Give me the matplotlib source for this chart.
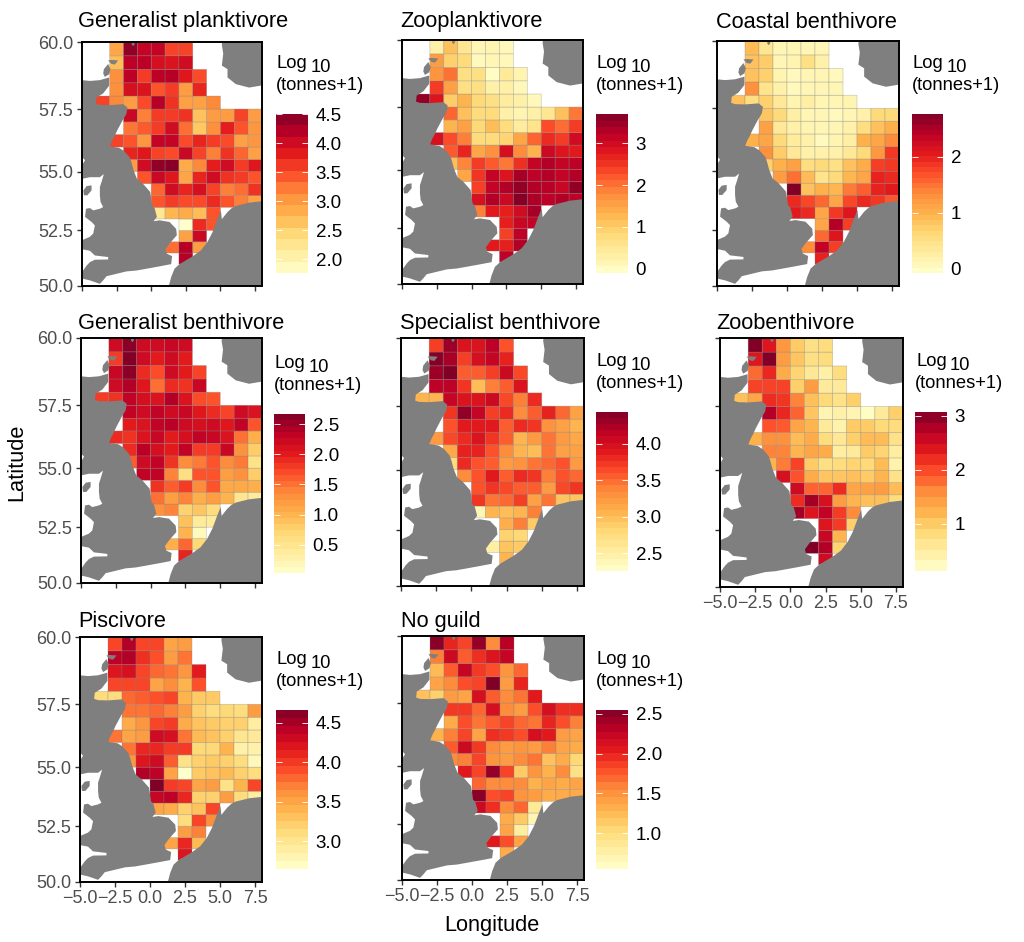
import numpy as np
import matplotlib
matplotlib.use("Agg")
import matplotlib.pyplot as plt
from matplotlib.colors import LinearSegmentedColormap

plt.rcParams['font.family'] = ['Liberation Sans', 'DejaVu Sans']

W, H = 1024, 942

# ICES rectangles: south edge of each row and west edge of its first cell
row_lat = [59.5, 59.0, 58.5, 58.0, 57.5, 57.0, 56.5, 56.0, 55.5, 55.0, 54.5, 54.0, 53.5, 53.0, 52.5, 52.0, 51.5, 51.0]
row_lon = [-3, -3, -3, -3, -4, -2, -2, -3, -2, -2, -1, 0, 0, 0, 2, 2, 1, 2]

titles = ["Generalist planktivore", "Zooplanktivore", "Coastal benthivore",
          "Generalist benthivore", "Specialist benthivore", "Zoobenthivore",
          "Piscivore", "No guild"]

gen_plank = [
    [2.9, 4.4, 4.1, 4.1, 3.55, 3.55],
    [2.7, 4.15, 4.15, 3.95, 3.9, 4.0],
    [3.1, 4.15, 3.6, 4.15, 4.2, 3.85, 3.5],
    [3.1, 3.95, 3.9, 3.45, 3.6, 3.0, 3.75],
    [3.55, 3.15, 3.0, 3.5, 4.2, 3.65, 2.95, 2.95, 3.15],
    [4.05, 3.2, 3.6, 3.6, 3.65, 2.65, 3.0, 3.0, 3.55, 3.0],
    [3.25, 3.4, 3.6, 4.0, 3.3, 2.6, 3.1, 3.8, 3.45, 3.05],
    [3.55, 3.45, 3.05, 4.1, 4.1, 3.5, 3.75, 3.6, 3.5, 2.95, 3.05],
    [3.75, 3.85, 3.55, 3.5, 4.05, 3.55, 3.2, 3.65, 3.35, 2.95],
    [3.0, 4.0, 4.4, 4.45, 2.85, 3.15, 3.8, 4.0, 3.6, 3.85],
    [3.45, 4.05, 3.85, 2.9, 3.75, 4.0, 3.65, 3.6, 3.45],
    [3.35, 4.0, 3.75, 3.95, 3.55, 3.2, 3.3, 3.65],
    [3.45, 3.6, 3.5, 3.5, 3.7, 3.45, 3.2, 2.95],
    [2.2, 2.75, 2.85, 2.7, 3.45],
    [1.76, 3.7, 3.45],
    [2.95, 4.05],
    [3.3, 4.2, 3.0],
    [4.2],
]
zooplank = [
    [0.3, 1.15, 0.55, 0.15, 0.2, 0.1],
    [1.6, 0.95, 0.8, 0.05, 0.15, 0.1],
    [1.7, 2.0, 0.7, 0.7, 0.0, 0.45, 0.2],
    [2.45, 1.55, 0.7, 0.7, 0.3, 0.3, 0.1],
    [3.55, 2.85, 1.0, 1.3, 0.85, 0.7, 0.4, 0.3, 0.1],
    [2.1, 1.15, 0.8, 0.8, 0.3, 0.2, 0.3, 0.55, 1.15, 1.95],
    [1.3, 1.55, 0.85, 1.2, 0.75, 0.4, 0.6, 2.3, 2.05, 2.45],
    [2.9, 2.3, 1.9, 0.8, 0.8, 0.9, 1.5, 2.1, 2.6, 2.45, 3.0],
    [2.2, 2.65, 1.5, 1.75, 2.95, 1.8, 1.3, 3.05, 2.85, 2.75],
    [1.2, 1.85, 2.45, 2.2, 1.95, 2.55, 3.15, 3.3, 3.15, 3.2],
    [1.5, 2.5, 3.15, 2.85, 3.4, 3.2, 3.3, 3.15, 3.3],
    [2.4, 3.15, 3.3, 3.55, 3.3, 3.25, 3.1, 3.55],
    [2.9, 3.3, 3.05, 3.65, 3.35, 3.2, 3.3, 3.2],
    [1.9, 2.75, 2.7, 3.0, 3.4],
    [2.7, 3.1, 3.15],
    [2.4, 3.2],
    [2.75, 2.7, 3.3],
    [3.2],
]
coastal_ben = [
    [0.9, 0.4, 0.1, 0.1, 0.1, 0.1],
    [0.85, 0.75, 0.1, 0.15, 0.5, 0.2],
    [0.85, 0.7, 0.15, 0.05, 0.1, 0.1, 0.05],
    [1.3, 0.45, 0.2, 0.05, 0.1, 0.1, 0.1],
    [0.85, 0.55, 0.7, 0.35, 0.15, 0.25, 0.1, 0.1, 0.15],
    [0.8, 0.6, 0.25, 0.1, 0.1, 0.05, 0.1, 0.2, 0.6, 0.6],
    [1.15, 0.35, 0.2, 0.15, 0.1, 0.1, 0.2, 0.55, 0.85, 1.0],
    [1.0, 1.1, 0.6, 0.3, 0.2, 0.05, 0.15, 0.25, 1.0, 1.1, 1.35],
    [1.3, 0.75, 0.35, 0.2, 0.2, 0.2, 0.35, 0.6, 1.25, 1.85],
    [0.7, 1.0, 1.15, 0.55, 0.6, 0.5, 0.85, 1.05, 1.8, 1.85],
    [1.2, 1.5, 0.9, 0.45, 0.6, 0.95, 1.1, 2.0, 1.95],
    [2.76, 0.85, 1.0, 0.95, 1.45, 1.6, 2.0, 2.05],
    [1.95, 1.75, 1.55, 1.1, 1.75, 1.95, 1.85, 1.65],
    [2.05, 1.95, 1.1, 1.85, 2.1],
    [1.1, 2.45, 1.8],
    [1.55, 2.1],
    [1.35, 2.35, 1.8],
    [2.0],
]
gen_ben = [
    [2.2, 2.6, 2.2, 2.2, 2.25, 2.2],
    [1.8, 2.65, 2.2, 2.0, 2.2, 2.0],
    [2.25, 2.6, 1.9, 1.7, 2.2, 2.0, 1.75],
    [2.2, 2.4, 2.05, 1.5, 1.9, 1.85, 2.25],
    [1.8, 1.85, 2.3, 2.15, 2.1, 2.4, 2.1, 1.7, 1.65],
    [2.3, 2.2, 2.3, 2.2, 2.25, 2.05, 1.9, 1.75, 2.2, 2.1],
    [2.0, 2.1, 2.3, 2.35, 2.2, 2.15, 2.2, 2.05, 2.3, 1.65],
    [1.9, 1.85, 2.1, 2.25, 2.0, 2.15, 2.3, 2.25, 2.1, 1.5, 1.05],
    [1.9, 2.35, 2.15, 2.0, 2.3, 1.8, 1.8, 2.25, 1.3, 0.8],
    [1.6, 2.2, 2.3, 1.85, 1.35, 1.45, 1.65, 1.35, 1.45, 0.55],
    [2.3, 2.3, 1.4, 0.6, 1.65, 1.65, 1.2, 1.3, 0.8],
    [1.85, 1.6, 1.8, 1.35, 1.65, 1.1, 1.1, 1.05],
    [1.5, 1.2, 1.4, 1.05, 1.2, 1.0, 0.5, 0.4],
    [1.3, 1.4, 0.75, 0.85, 0.65],
    [0.9, 0.4, 0.4],
    [1.0, 0.15],
    [1.05, 1.55, 0.7],
    [1.95],
]
spec_ben = [
    [3.7, 4.3, 3.95, 3.95, 4.15, 3.6],
    [4.4, 4.25, 3.7, 4.0, 4.1, 3.85],
    [4.3, 4.43, 3.55, 3.55, 3.7, 4.05, 3.65],
    [4.15, 4.15, 3.75, 3.0, 3.4, 3.55, 3.95],
    [3.05, 3.05, 4.1, 3.95, 3.95, 4.05, 3.65, 3.4, 3.8],
    [3.75, 4.35, 4.1, 3.7, 3.8, 3.35, 3.55, 3.85, 3.5, 3.2],
    [3.6, 3.9, 3.9, 3.9, 3.55, 3.8, 3.75, 3.3, 3.2, 3.05],
    [3.25, 3.65, 3.8, 3.95, 3.75, 3.55, 3.05, 3.25, 3.45, 3.25, 3.15],
    [3.15, 3.85, 3.85, 3.6, 3.35, 3.05, 3.0, 3.45, 3.2, 3.2],
    [2.75, 3.8, 3.6, 3.55, 3.25, 3.3, 3.45, 3.5, 3.6, 3.25],
    [3.35, 3.6, 3.9, 3.55, 3.8, 3.75, 3.4, 3.6, 3.5],
    [3.6, 3.75, 3.65, 3.55, 3.55, 3.25, 3.65, 3.75],
    [3.75, 3.45, 3.5, 3.7, 3.2, 3.45, 2.95, 2.95],
    [2.4, 3.05, 3.0, 3.05, 3.4],
    [3.1, 3.4, 2.9],
    [2.85, 2.8],
    [2.5, 2.95, 2.9],
    [3.05],
]
zoo_ben = [
    [3.05, 2.4, 1.5, 1.0, 0.75, 0.8],
    [2.4, 3.05, 1.45, 1.05, 0.75, 0.8],
    [1.8, 2.25, 1.3, 0.9, 0.6, 0.45, 0.8],
    [2.05, 2.05, 2.05, 0.95, 1.45, 0.55, 0.55],
    [1.1, 1.35, 2.2, 2.15, 1.65, 1.1, 0.85, 0.7, 0.95],
    [2.75, 2.25, 1.85, 1.05, 0.35, 0.45, 0.35, 0.2, 0.55, 0.95],
    [1.95, 1.9, 1.35, 1.2, 0.55, 0.4, 1.0, 1.0, 0.85, 0.8],
    [1.25, 1.55, 1.55, 1.15, 1.3, 0.8, 0.6, 0.95, 1.15, 1.15, 0.7],
    [1.65, 1.65, 1.2, 1.35, 1.3, 0.5, 0.55, 1.0, 0.9, 0.5],
    [1.2, 1.7, 2.05, 1.0, 0.75, 0.8, 0.9, 0.85, 1.15, 0.4],
    [2.45, 1.95, 1.3, 1.05, 1.05, 1.1, 1.0, 1.2, 0.7],
    [2.55, 1.85, 1.85, 2.2, 1.35, 1.4, 1.45, 1.15],
    [2.2, 2.85, 2.45, 1.45, 1.2, 1.1, 1.1, 0.8],
    [2.85, 2.4, 2.65, 2.1, 1.6],
    [2.4, 2.1, 0.95],
    [2.6, 1.2],
    [3.05, 2.75, 0.9],
    [2.55],
]
piscivore = [
    [3.95, 4.45, 3.95, 3.95, 3.5, 3.55],
    [4.4, 4.45, 4.05, 3.9, 3.55, 3.75],
    [4.2, 4.25, 3.95, 3.8, 3.75, 3.6, 4.15],
    [3.95, 3.95, 3.95, 3.5, 3.65, 3.4, 3.9],
    [3.1, 3.1, 3.8, 3.85, 3.9, 3.95, 3.4, 3.25, 3.25],
    [3.75, 3.75, 3.8, 3.7, 3.55, 3.2, 3.1, 3.15, 3.1, 3.55],
    [3.45, 3.6, 3.95, 4.0, 3.45, 3.3, 3.25, 3.2, 3.2, 2.9],
    [3.75, 3.5, 3.55, 4.3, 4.25, 3.75, 3.35, 3.3, 3.2, 3.0, 2.95],
    [3.75, 4.1, 4.1, 4.0, 4.0, 3.15, 3.15, 3.4, 2.85, 2.85],
    [3.6, 4.2, 4.3, 3.85, 3.05, 3.2, 3.25, 3.2, 3.1, 2.75],
    [4.45, 4.4, 3.5, 2.65, 3.25, 3.3, 3.35, 3.2, 3.1],
    [4.66, 4.0, 3.95, 3.5, 3.55, 3.05, 3.4, 3.95],
    [4.35, 4.4, 4.1, 3.2, 3.2, 3.55, 3.1, 2.9],
    [3.5, 3.45, 3.2, 3.3, 3.95],
    [3.1, 3.95, 3.65],
    [3.55, 3.7],
    [3.5, 4.1, 3.35],
    [4.2],
]
no_guild = [
    [2.5, 2.0, 1.85, 2.45, 1.55, 2.3],
    [1.6, 2.2, 1.75, 1.95, 2.1, 2.25],
    [1.25, 1.75, 2.25, 1.9, 1.8, 1.5, 1.7],
    [1.4, 1.55, 1.8, 1.85, 2.55, 1.45, 2.0],
    [1.2, 1.1, 1.45, 1.4, 2.15, 1.75, 1.55, 1.65, 2.05],
    [1.9, 1.9, 1.7, 2.15, 1.55, 1.45, 1.8, 2.15, 1.95, 1.95],
    [1.35, 1.8, 1.65, 1.75, 1.85, 1.7, 1.65, 2.0, 1.8, 1.6],
    [1.3, 1.6, 1.85, 1.4, 1.95, 1.9, 1.8, 2.15, 2.05, 1.45, 1.4],
    [1.75, 2.2, 1.9, 1.55, 1.45, 1.5, 1.45, 1.6, 1.4, 1.35],
    [1.55, 1.6, 1.85, 1.5, 1.45, 1.55, 1.65, 1.2, 1.35, 1.05],
    [2.05, 1.85, 2.45, 1.85, 1.15, 1.5, 1.3, 1.55, 0.95],
    [1.7, 1.55, 1.55, 1.55, 1.3, 1.4, 1.35, 1.4],
    [2.5, 1.8, 1.85, 1.5, 1.45, 1.35, 1.35, 1.35],
    [2.2, 1.95, 1.55, 1.7, 0.85],
    [1.35, 1.15, 0.7],
    [1.4, 0.8],
    [2.05, 1.8, 1.4],
    [1.35],
]
panel_values = [gen_plank, zooplank, coastal_ben, gen_ben, spec_ben, zoo_ben, piscivore, no_guild]

# legend range, breaks, number of bands in the bar
bar_min = [1.76, -0.1, -0.08, 0.03, 2.26, 0.13, 2.65, 0.55]
bar_max = [4.5, 3.7, 2.76, 2.67, 4.43, 3.07, 4.66, 2.55]
bar_ticks = [[2.0, 2.5, 3.0, 3.5, 4.0, 4.5], [0, 1, 2, 3], [0, 1, 2],
             [0.5, 1.0, 1.5, 2.0, 2.5], [2.5, 3.0, 3.5, 4.0], [1, 2, 3],
             [3.0, 3.5, 4.0, 4.5], [1.0, 1.5, 2.0, 2.5]]
bar_labels = [["2.0", "2.5", "3.0", "3.5", "4.0", "4.5"], ["0", "1", "2", "3"], ["0", "1", "2"],
              ["0.5", "1.0", "1.5", "2.0", "2.5"], ["2.5", "3.0", "3.5", "4.0"], ["1", "2", "3"],
              ["3.0", "3.5", "4.0", "4.5"], ["1.0", "1.5", "2.0", "2.5"]]
bar_steps = [14, 24, 30, 26, 26, 15, 20, 22]

# panel boxes in pixels: left, right, top, bottom
panel_px = [(82, 262, 42, 286), (402, 583, 40, 284), (717, 899, 41, 286),
            (81, 262, 338, 583), (401, 584, 338, 586), (720, 903, 338, 587),
            (80, 262, 637, 882), (402, 584, 636, 880)]
bar_px = [(276, 308, 114, 273), (596, 628, 114, 273), (912, 943, 114, 273),
          (274, 305, 414, 573), (596, 628, 412, 571), (915, 947, 412, 571),
          (276, 308, 710, 869), (596, 628, 710, 869)]
title_x = [78, 400, 716, 78, 400, 716, 78, 401]
title_base = [27.5, 27.5, 27.5, 329, 329, 329, 627, 627]

# coastline outlines, lon/lat, rough digitising
gb_lon = [-6, -5, -4.43, -3.71, -3.04, -3.04, -3.47, -3.95, -4.0, -3.71, -2.99, -2.03, -1.72, -1.79, -2.08, -2.46, -2.65,
          -2.82, -2.99, -2.32, -1.96, -1.55, -1.43, -1.27, -1.03, -0.6, -0.07, 0.07, 0.24, 0.41, 0.17, 0.6, 1.32, 1.8,
          1.85, 1.32, 1.03, 1.13, 1.51, 1.44, 0.6, -0.36, -1.07, -1.79, -2.51, -3.23, -3.47, -3.71, -4.43, -4.9, -6,
          -6, -5, -4.66, -4.43, -4.07, -3.11, -3.11, -4.07, -4.43, -5, -6, -6, -5, -4.43, -4.19, -4.07, -4.31, -4.78,
          -4.71, -4.43, -4.19, -3.71, -3.47, -3.66, -3.71, -3.71, -3.59, -3.42, -3.71, -4.43, -5, -6, -6, -5, -4.78,
          -5, -6]
gb_lat = [58.6, 58.6, 58.57, 58.6, 58.7, 58.39, 58.1, 57.94, 57.71, 57.66, 57.65, 57.69, 57.56, 57.31, 57.05, 56.66, 56.43,
          56.26, 56.03, 55.97, 55.84, 55.58, 55.39, 55.05, 54.7, 54.5, 54.15, 53.58, 53.47, 53.09, 52.9, 52.94, 52.87,
          52.57, 52.29, 51.92, 51.67, 51.47, 51.36, 51.0, 50.9, 50.79, 50.71, 50.67, 50.56, 50.45, 50.26, 50.1, 50.26,
          50.33, 50.2, 50.64, 50.64, 50.94, 51.09, 51.2, 51.21, 51.32, 51.39, 51.6, 51.67, 51.67, 52.07, 52.07, 52.22,
          52.36, 52.72, 52.87, 53.09, 53.44, 53.47, 53.37, 53.44, 53.51, 53.73, 54.01, 54.36, 54.57, 54.9, 54.77, 54.77,
          54.7, 54.7, 55.27, 55.27, 55.47, 55.6, 55.6]
cont_lon = [1.27, 1.44, 1.68, 2.04, 2.99, 3.59, 4.07, 4.43, 4.79, 5.03, 5.1, 5.51, 5.82, 6.11, 7.07, 7.98, 9, 9, 1.27]
cont_lat = [50.0, 50.41, 50.79, 51.0, 51.35, 51.62, 52.0, 52.43, 53.01, 53.37, 52.99, 53.3, 53.47, 53.56, 53.7, 53.76, 53.8, 49, 49]
norway_lon = [5.15, 5.1, 5.2, 5.1, 5.51, 5.51, 6.11, 7.07, 7.98, 9, 9, 5.15]
norway_lat = [60.2, 59.89, 59.58, 59.14, 59.01, 58.7, 58.45, 58.32, 58.4, 58.4, 60.2, 60.2]
orkney_lon = [-3.42, -3.11, -2.94, -3.04, -3.35, -3.47]
orkney_lat = [59.01, 59.2, 59.01, 58.82, 58.72, 58.85]
orkney_n_lon = [-3.11, -2.87, -2.39, -2.63, -2.87]
orkney_n_lat = [59.33, 59.35, 59.33, 59.18, 59.2]
shetland_lon = [-1.43, -1.4, -1.3, -1.2, -1.2]
shetland_lat = [60.1, 59.9, 59.85, 59.92, 60.1]
man_lon = [-4.9, -4.66, -4.31, -4.31, -4.62, -4.86]
man_lat = [54.22, 54.4, 54.43, 54.22, 54.01, 54.01]
land_shapes = [(gb_lon, gb_lat), (cont_lon, cont_lat), (norway_lon, norway_lat), (orkney_lon, orkney_lat),
               (orkney_n_lon, orkney_n_lat), (shetland_lon, shetland_lat), (man_lon, man_lat)]

lon_ticks = [-5, -2.5, 0, 2.5, 5, 7.5]
lon_labels = ["\u22125.0", "\u22122.5", "0.0", "2.5", "5.0", "7.5"]
lat_ticks = [50, 52.5, 55, 57.5, 60]
lat_labels = ["50.0", "52.5", "55.0", "57.5", "60.0"]

ylorrd = ['#FFFFCC', '#FFEDA0', '#FED976', '#FEB24C', '#FD8D3C', '#FC4E2A', '#E31A1C', '#BD0026', '#800026']
cmap = LinearSegmentedColormap.from_list('ylorrd', ylorrd)


def merc(lat):
	return np.arcsinh(np.tan(np.radians(lat)))


def inv_merc(y):
	return np.degrees(np.arctan(np.sinh(y)))


def px_axes(box):
	left, right, top, bottom = box
	return [left / W, 1 - bottom / H, (right - left) / W, (bottom - top) / H]


fig = plt.figure(figsize=(W / 100, H / 100), dpi=100)

for i in range(8):
	ax = fig.add_axes(px_axes(panel_px[i]))
	# grid of cells, empty ones stay masked
	lon_edges = np.arange(-5, 9)
	lat_edges = np.arange(50, 60.5, 0.5)
	grid = np.full((20, 13), np.nan)
	for lat, lon0, vals in zip(row_lat, row_lon, panel_values[i]):
		r = int((lat - 50) * 2)
		for k, v in enumerate(vals):
			grid[r, lon0 + 5 + k] = v
	ax.set_yscale('function', functions=(merc, inv_merc))
	ax.pcolor(lon_edges, lat_edges, np.ma.masked_invalid(grid), cmap=cmap,
		vmin=bar_min[i], vmax=bar_max[i], edgecolors=(0.5, 0.5, 0.5, 0.4), linewidth=0.5)
	for lons, lats in land_shapes:
		ax.fill(lons, lats, color='#7F7F7F', lw=0, zorder=3)
	ax.set_xlim(-5, 8)
	ax.set_ylim(50, 60)
	ax.set_xticks(lon_ticks)
	ax.set_yticks(lat_ticks)
	ax.minorticks_off()
	# only the lowest panel of each column and the first column carry labels
	if i in (5, 6, 7):
		ax.set_xticklabels(lon_labels, fontsize=13, color='#4D4D4D')
	else:
		ax.set_xticklabels([])
	if i in (0, 3, 6):
		ax.set_yticklabels(lat_labels, fontsize=13, color='#4D4D4D')
	else:
		ax.set_yticklabels([])
	ax.tick_params(length=3.6, width=1.0, color='#333333', pad=2.5)
	for s in ax.spines.values():
		s.set_linewidth(1.4)
		s.set_zorder(5)
	fig.text(title_x[i] / W, 1 - title_base[i] / H, titles[i], fontsize=15.7, ha='left', va='baseline')

	# legend bar
	cax = fig.add_axes(px_axes(bar_px[i]))
	edges = np.linspace(bar_min[i], bar_max[i], bar_steps[i] + 1)
	mids = (edges[:-1] + edges[1:]) / 2
	cax.pcolormesh([0, 1], edges, mids.reshape(-1, 1), cmap=cmap, vmin=bar_min[i], vmax=bar_max[i])
	cax.set_xlim(0, 1)
	cax.set_ylim(bar_min[i], bar_max[i])
	cax.hlines(bar_ticks[i], 0, 0.2, color='white', lw=0.7, alpha=0.9)
	cax.hlines(bar_ticks[i], 0.8, 1, color='white', lw=0.7, alpha=0.9)
	cax.set_xticks([])
	cax.yaxis.tick_right()
	cax.set_yticks(bar_ticks[i])
	cax.set_yticklabels(bar_labels[i], fontsize=13.5)
	cax.tick_params(axis='y', length=0, pad=5.5)
	for s in cax.spines.values():
		s.set_visible(False)
	bx, by = bar_px[i][0], bar_px[i][2]
	fig.text((bx + 1) / W, 1 - (by - 50) / H, "Log", fontsize=13.2, ha='left', va='center')
	fig.text((bx + 35) / W, 1 - (by - 46.5) / H, "10", fontsize=13.2, ha='left', va='center')
	fig.text(bx / W, 1 - (by - 28) / H, "(tonnes+1)", fontsize=13.2, ha='left', va='center')

fig.text(17 / W, 1 - 462 / H, "Latitude", fontsize=15.7, rotation=90, ha='center', va='center')
fig.text(492 / W, 1 - 925 / H, "Longitude", fontsize=15.7, ha='center', va='center')

fig.savefig("out.png", dpi=100)
